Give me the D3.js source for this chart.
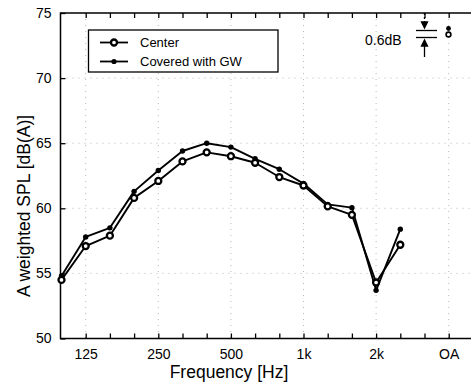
<!DOCTYPE html>
<html><head><meta charset="utf-8">
<script src="https://cdn.jsdelivr.net/npm/d3@7"></script>
<style>body{margin:0;background:#fff}svg{display:block}text{font-family:"Liberation Sans",Arial,Helvetica,sans-serif;fill:#000}</style>
</head><body><svg id="c" width="471" height="383"></svg>
<script>
const bands = ["100","125","160","200","250","315","400","500","630","800","1k","1.25k","1.6k","2k","2.5k","3.15k","OA"];
const labeledBands = ["125","250","500","1k","2k","OA"];
const centerValues  = [54.5, 57.1, 57.9, 60.8, 62.1, 63.6, 64.3, 64.0, 63.5, 62.4, 61.75, 60.15, 59.5, 54.3, 57.2];
const coveredValues = [54.8, 57.8, 58.5, 61.3, 62.9, 64.4, 65.0, 64.7, 63.8, 63.0, 61.9, 60.3, 60.05, 53.7, 58.4];
const yTicks = [50, 55, 60, 65, 70, 75];
const seriesNames = ["Center", "Covered with GW"];

const svg = d3.select("#c");
const L = 60.5, T = 13, B = 338.5, R = 472;
const x = d3.scaleLinear().domain([0, 17]).range([L + 1, L + 1 + 17 * 24.2]);
const y = d3.scaleLinear().domain([50, 75]).range([B, T]);
const xi = b => x(bands.indexOf(b));

// faint dotted grid
const grid = svg.append("g").attr("stroke", "#b8b8b8").attr("stroke-width", 1).attr("stroke-dasharray", "1,5");
[55, 60, 65, 70].forEach(v => grid.append("line").attr("x1", L).attr("x2", R).attr("y1", y(v)).attr("y2", y(v)));
labeledBands.forEach(b => grid.append("line").attr("x1", xi(b)).attr("x2", xi(b)).attr("y1", T).attr("y2", B));

// frame
const frame = svg.append("g").attr("stroke", "#000").attr("stroke-width", 1.5).attr("fill", "none");
frame.append("path").attr("d", `M${R},${T}H${L}V${B}H${R}`);

// bottom axis (inward ticks)
const xAxisB = d3.axisBottom(x).tickValues(d3.range(1, bands.length)).tickSize(-5)
  .tickFormat(i => labeledBands.includes(bands[i]) ? bands[i] : "");
const gB = svg.append("g").attr("transform", `translate(0,${B})`).call(xAxisB);
gB.select(".domain").remove();
gB.selectAll("line").attr("stroke", "#000").attr("stroke-width", 1.3);
gB.selectAll("text").attr("y", 10.5).attr("dy", "0.71em").style("font-size", "14px").attr("fill", "#000");

// top axis ticks
const xAxisT = d3.axisTop(x).tickValues(d3.range(1, bands.length)).tickSize(-5).tickFormat("");
const gT = svg.append("g").attr("transform", `translate(0,${T})`).call(xAxisT);
gT.select(".domain").remove();
gT.selectAll("line").attr("stroke", "#000").attr("stroke-width", 1.3);

// left axis
const yAxis = d3.axisLeft(y).tickValues(yTicks).tickSize(-5).tickPadding(9);
const gL = svg.append("g").attr("transform", `translate(${L},0)`).call(yAxis);
gL.select(".domain").remove();
gL.selectAll("line").attr("stroke", "#000").attr("stroke-width", 1.3);
gL.selectAll("text").style("font-size", "14px").attr("fill", "#000");

// axis titles
svg.append("text").attr("x", 229).attr("y", 378).attr("text-anchor", "middle")
  .style("font-size", "17.5px").text("Frequency [Hz]");
svg.append("text").attr("transform", `translate(30,${206}) rotate(-90)`).attr("text-anchor", "middle")
  .style("font-size", "17.5px").text("A weighted SPL [dB(A)]");

// lines
const line = d3.line().x((d, i) => x(i)).y(d => y(d));
[centerValues, coveredValues].forEach(vals => {
  svg.append("path").datum(vals).attr("d", line).attr("fill", "none")
    .attr("stroke", "#000").attr("stroke-width", 1.9).attr("stroke-linejoin", "round");
});
svg.append("g").selectAll("circle").data(coveredValues).join("circle")
  .attr("cx", (d, i) => x(i)).attr("cy", d => y(d)).attr("r", 2.7).attr("fill", "#000");
svg.append("g").selectAll("circle").data(centerValues).join("circle")
  .attr("cx", (d, i) => x(i)).attr("cy", d => y(d)).attr("r", 3)
  .attr("fill", "#fff").attr("stroke", "#000").attr("stroke-width", 2.3);

// legend
const lg = svg.append("g");
lg.append("rect").attr("x", 88.5).attr("y", 30).attr("width", 189.5).attr("height", 42)
  .attr("fill", "#fff").attr("stroke", "#000").attr("stroke-width", 1.3);
const rowsY = [42.5, 61.5];
seriesNames.forEach((name, k) => {
  lg.append("line").attr("x1", 100).attr("x2", 128).attr("y1", rowsY[k]).attr("y2", rowsY[k])
    .attr("stroke", "#000").attr("stroke-width", 1.8);
  if (k === 0) lg.append("circle").attr("cx", 114).attr("cy", rowsY[k]).attr("r", 3)
    .attr("fill", "#fff").attr("stroke", "#000").attr("stroke-width", 2.3);
  else lg.append("circle").attr("cx", 114).attr("cy", rowsY[k]).attr("r", 2.6).attr("fill", "#000");
  lg.append("text").attr("x", 140).attr("y", rowsY[k]).attr("dy", "0.36em")
    .style("font-size", "13px").text(name);
});

// 0.6 dB annotation
const an = svg.append("g").attr("stroke", "#000").attr("stroke-width", 1.3);
svg.append("text").attr("x", 365).attr("y", 45).style("font-size", "14px").text("0.6dB");
an.append("line").attr("x1", 424.5).attr("x2", 424.5).attr("y1", T).attr("y2", 24).attr("stroke-dasharray", "2,2");
an.append("path").attr("d", "M421.5,22L424.5,28L427.5,22Z").attr("fill", "#000");
an.append("line").attr("x1", 416).attr("x2", 437).attr("y1", 30.5).attr("y2", 30.5);
an.append("line").attr("x1", 416).attr("x2", 437).attr("y1", 37.5).attr("y2", 37.5);
an.append("line").attr("x1", 424.5).attr("x2", 424.5).attr("y1", 43).attr("y2", 57);
an.append("path").attr("d", "M421.5,46L424.5,40L427.5,46Z").attr("fill", "#000");
svg.append("circle").attr("cx", 448.5).attr("cy", 28.5).attr("r", 2.4).attr("fill", "#000");
svg.append("circle").attr("cx", 448.5).attr("cy", 34.5).attr("r", 2.4).attr("fill", "#fff").attr("stroke", "#000").attr("stroke-width", 1.6);
</script></body></html>
